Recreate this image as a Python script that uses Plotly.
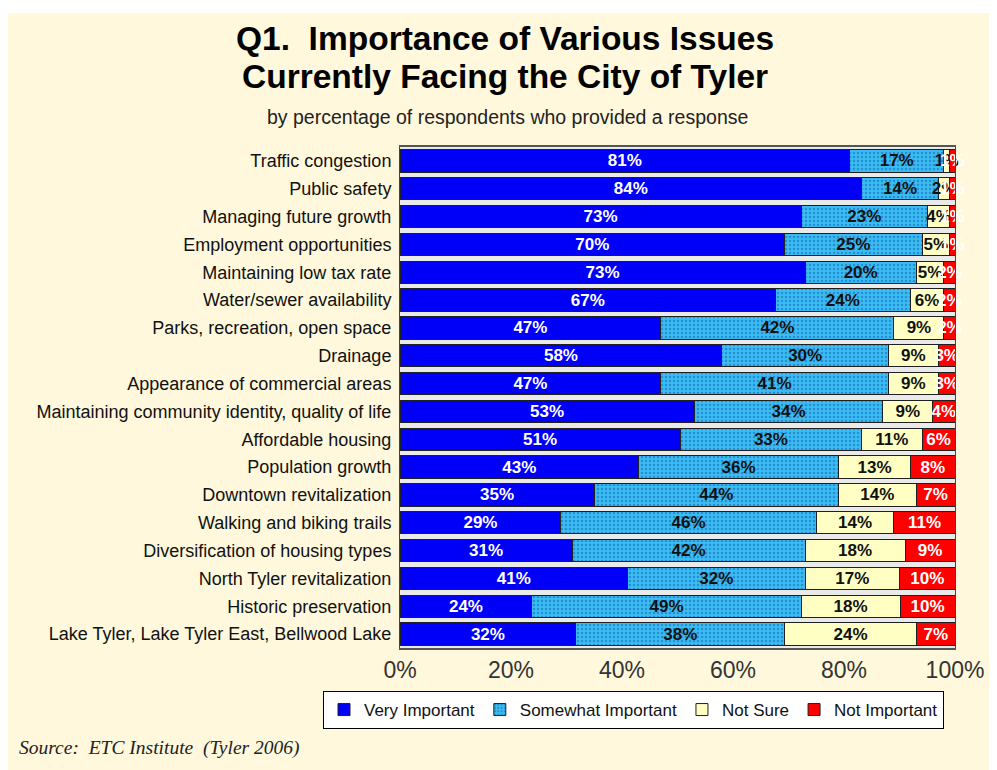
import plotly.graph_objects as go

categories = [
    "Traffic congestion",
    "Public safety",
    "Managing future growth",
    "Employment opportunities",
    "Maintaining low tax rate",
    "Water/sewer availability",
    "Parks, recreation, open space",
    "Drainage",
    "Appearance of commercial areas",
    "Maintaining community identity, quality of life",
    "Affordable housing",
    "Population growth",
    "Downtown revitalization",
    "Walking and biking trails",
    "Diversification of housing types",
    "North Tyler revitalization",
    "Historic preservation",
    "Lake Tyler, Lake Tyler East, Bellwood Lake",
]
very_important = [81, 84, 73, 70, 73, 67, 47, 58, 47, 53, 51, 43, 35, 29, 31, 41, 24, 32]
somewhat_important = [17, 14, 23, 25, 20, 24, 42, 30, 41, 34, 33, 36, 44, 46, 42, 32, 49, 38]
not_sure = [1, 2, 4, 5, 5, 6, 9, 9, 9, 9, 11, 13, 14, 14, 18, 17, 18, 24]
not_important = [1, 1, 1, 1, 2, 2, 2, 3, 3, 4, 6, 8, 7, 11, 9, 10, 10, 7]
x_ticks = [0, 20, 40, 60, 80, 100]

series = [
    ("Very Important", very_important, "#0000F8", "white", None),
    ("Somewhat Important", somewhat_important, "#3CBCF4", "#111111", "pattern"),
    ("Not Sure", not_sure, "#FFFFC4", "#111111", None),
    ("Not Important", not_important, "#FF0000", "white", None),
]

fig = go.Figure()
for name, vals, color, tcolor, pat in series:
    marker = dict(color=color, line=dict(color="#202020", width=1))
    if pat:
        marker["pattern"] = dict(shape=".", fgcolor="#2590D0", bgcolor=color,
                                 size=4, solidity=0.3, fillmode="replace")
    fig.add_trace(go.Bar(
        name=name, y=categories, x=vals, orientation="h",
        marker=marker, width=0.8,
        text=[f"{v}%" for v in vals], textposition="inside", textangle=0,
        insidetextanchor="middle", constraintext="none",
        textfont=dict(family="Liberation Sans, Arial", size=17, color=tcolor),
        texttemplate="<b>%{text}</b>", cliponaxis=False,
        hoverinfo="skip",
    ))

# figure is drawn at page offset (8, 8) because of the body margin
W, H = 989, 762
L, R, T, B = 392, 42, 139, 122
pw, ph = W - L - R, H - T - B

def px2paper(x, y):
    return (x - 8 - L) / pw, 1 - (y - 8 - T) / ph

SANS = "Liberation Sans, Arial"

fig.update_layout(
    width=W, height=H,
    barmode="stack", barnorm="percent",
    paper_bgcolor="#FFF8DC", plot_bgcolor="#EAEAEA",
    margin=dict(l=L, r=R, t=T, b=B, autoexpand=False),
    font=dict(family=SANS, color="#111111"),
    showlegend=True,
    legend=dict(orientation="h", x=px2paper(323, 0)[0], y=px2paper(0, 691)[1],
                xanchor="left", yanchor="top",
                bgcolor="white", bordercolor="black", borderwidth=1,
                font=dict(size=17, color="#111111", family=SANS),
                traceorder="normal", itemwidth=30, tracegroupgap=0),
    xaxis=dict(range=[0, 100], tickvals=x_ticks, ticktext=[f"{t}%" for t in x_ticks],
               tickfont=dict(size=23, color="#333333", family=SANS), showgrid=False,
               showline=True, linecolor="#555555", linewidth=2, mirror=True,
               ticks="", zeroline=False, fixedrange=True),
    yaxis=dict(autorange="reversed", tickfont=dict(size=18, color="#111111"),
               showline=True, linecolor="#444444", linewidth=1, mirror=True,
               ticks="", ticklabelstandoff=4, fixedrange=True),
    shapes=[
        dict(type="rect", xref="paper", yref="paper",
             x0=px2paper(0, 0)[0], x1=px2paper(1000, 0)[0],
             y0=px2paper(0, 13)[1], y1=px2paper(0, 0)[1],
             fillcolor="white", line=dict(width=0), layer="below"),
    ],
)

annots = [
    ("<b>Q1.&nbsp; Importance of Various Issues</b>", 505, 38, "center",
     dict(size=33.5, color="black", family=SANS)),
    ("<b>Currently Facing the City of Tyler</b>", 505, 76, "center",
     dict(size=33.5, color="black", family=SANS)),
    ("by percentage of respondents who provided a response", 507, 117, "center",
     dict(size=19.5, color="#222222", family=SANS)),
    ("<i>Source:&nbsp; ETC Institute&nbsp; (Tyler 2006)</i>", 17, 748, "left",
     dict(size=19.5, color="#222222", family="Liberation Serif, Times New Roman")),
]
for text, x, y, anchor, font in annots:
    ax, ay = px2paper(x, y)
    fig.add_annotation(text=text, x=ax, y=ay, xref="paper", yref="paper",
                       xanchor=anchor, yanchor="middle", showarrow=False, font=font)

fig.write_html("out.html")
